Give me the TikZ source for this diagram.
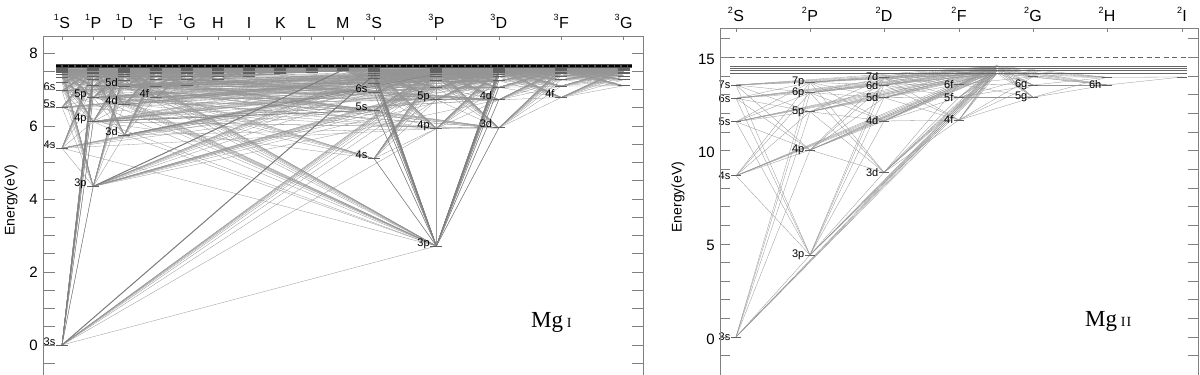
\documentclass[tikz,border=0pt]{standalone}
\usepackage{fontspec}
\setmainfont{Liberation Sans}
\newfontfamily\seriffont{Liberation Serif}
\newcommand\defc[3]{\coordinate (#1) at (#2,{345-36.5*(#3)});}
\newcommand\drwm[3]{\draw[lev] (#1) ++(-6,0) -- ++(12,0);}
\newcommand\rydL[5]{\foreach \n in {#4,...,15}{\pgfmathsetmacro\E{7.646-13.606/((\n-(#5))^2)}#1{#2-\n}{#3}{\E}}}
\newcommand\MgIlevels[1]{%
 #1{S1-3}{62}{0}#1{S1-4}{62}{5.394}#1{S1-5}{62}{6.516}#1{S1-6}{62}{6.966}\rydL{#1}{S1}{62}{7}{1.53}%
 #1{P1-3}{93.2}{4.346}#1{P1-4}{93.2}{6.118}#1{P1-5}{93.2}{6.783}\rydL{#1}{P1}{93.2}{6}{1.0}%
 #1{D1-3}{124.4}{5.753}#1{D1-4}{124.4}{6.588}#1{D1-5}{124.4}{7.092}\rydL{#1}{D1}{124.4}{6}{0.25}%
 \rydL{#1}{F1}{155.6}{4}{0.03}%
 \rydL{#1}{G1}{186.8}{5}{0}%
 \rydL{#1}{H}{218}{6}{0}%
 \rydL{#1}{I}{249.2}{7}{0}%
 \rydL{#1}{K}{280.4}{8}{0}%
 \rydL{#1}{L}{311.6}{9}{0}%
 \rydL{#1}{M}{342.8}{10}{0}%
 #1{S3-4}{374}{5.108}#1{S3-5}{374}{6.432}#1{S3-6}{374}{6.930}\rydL{#1}{S3}{374}{7}{1.63}%
 #1{P3-3}{436.4}{2.712}#1{P3-4}{436.4}{5.933}#1{P3-5}{436.4}{6.724}\rydL{#1}{P3}{436.4}{6}{1.2}%
 #1{D3-3}{498.8}{5.946}#1{D3-4}{498.8}{6.719}#1{D3-5}{498.8}{7.06}\rydL{#1}{D3}{498.8}{6}{0.2}%
 \rydL{#1}{F3}{561.2}{4}{0.03}%
 \rydL{#1}{G3}{623.6}{5}{0}%
}
\newcommand\defr[3]{\coordinate (#1) at (#2,#3);}
\newcommand\drwr[3]{\draw[lev] (#1) ++(-5,0) -- ++(10,0);}
\newcommand\MgIIlevels[1]{%
 #1{RS-3}{736}{337}#1{RS-4}{736}{175.7}#1{RS-5}{736}{121.7}#1{RS-6}{736}{98.3}#1{RS-7}{736}{85}%
 #1{RP-3}{810}{255}#1{RP-4}{810}{150}#1{RP-5}{810}{111.7}#1{RP-6}{810}{92.7}#1{RP-7}{810}{82.3}%
 #1{RD-3}{884}{172.3}#1{RD-4}{884}{121}#1{RD-5}{884}{97.7}#1{RD-6}{884}{85}#1{RD-7}{884}{77.7}%
 #1{RF-4}{959}{120}#1{RF-5}{959}{97.3}#1{RF-6}{959}{84.3}%
 #1{RG-5}{1033}{97.3}#1{RG-6}{1033}{85}#1{RG-7}{1033}{76.7}%
 #1{RH-6}{1107}{85}#1{RH-7}{1107}{77.3}%
 #1{RI-7}{1182}{77}%
}
\newcommand\allpairs[7]{\foreach \a in {#3,...,#4}{\foreach \b in {#6,...,#7}{\draw[#1] (#2-\a) -- (#5-\b);}}}
\newcommand\cl[2]{\raisebox{0.48em}{\fontsize{9}{9}\selectfont #1}\kern0.4pt#2}
\tikzset{
 frame/.style={draw=black!50, line width=0.7pt},
 tk/.style={draw=black!50, line width=0.6pt},
 lev/.style={draw=black!62, line width=1pt},
 tr/.style={draw=black!42, line width=0.3pt},
 trd/.style={draw=black!50, line width=0.45pt},
 trk/.style={draw=black!52, line width=1pt},
 ionI/.style={draw=black, line width=2.6pt, dash pattern=on 5pt off 1.5pt},
 ionIb/.style={draw=black!70, line width=3.4pt},
 ionII/.style={draw=black!60, line width=0.6pt, dash pattern=on 5pt off 3.5pt},
 suplev/.style={draw=black!60, line width=0.8pt},
 llab/.style={font=\fontsize{11}{11}\selectfont, anchor=base east, inner sep=0pt},
 rlab/.style={font=\fontsize{11}{11}\selectfont, anchor=east, inner sep=0pt},
 tlab/.style={font=\fontsize{15}{15}\selectfont, anchor=east, inner sep=0pt},
 clab/.style={font=\fontsize{16}{16}\selectfont, anchor=base, inner sep=0pt},
 axlab/.style={font=\fontsize{14}{14}\selectfont, rotate=90, inner sep=0pt},
}
\begin{document}
\begin{tikzpicture}[x=1pt,y=-1pt]
\useasboundingbox (0,0) rectangle (1200,375);
%% ================= Mg I =================
\MgIlevels{\defc}
% allowed transitions
\allpairs{tr}{S1}{3}{15}{P1}{3}{15}
\allpairs{tr}{P1}{3}{15}{D1}{3}{15}
\allpairs{tr}{D1}{3}{15}{F1}{4}{15}
\allpairs{tr}{F1}{4}{15}{G1}{5}{15}
\allpairs{tr}{G1}{5}{15}{H}{6}{15}
\allpairs{tr}{H}{6}{15}{I}{7}{15}
\allpairs{tr}{I}{7}{15}{K}{8}{15}
\allpairs{tr}{K}{8}{15}{L}{9}{15}
\allpairs{tr}{L}{9}{15}{M}{10}{15}
\allpairs{tr}{M}{10}{15}{S3}{7}{15}
\allpairs{tr}{S3}{4}{15}{P3}{3}{15}
\allpairs{tr}{P3}{3}{15}{D3}{3}{15}
\allpairs{tr}{D3}{3}{15}{F3}{4}{15}
\allpairs{tr}{F3}{4}{15}{G3}{5}{15}
% intercombination and other transitions
\allpairs{tr}{S1}{3}{3}{P3}{3}{12}
\allpairs{tr}{P3}{3}{3}{S1}{4}{12}
\allpairs{tr}{P3}{3}{3}{D1}{3}{12}
\allpairs{tr}{P1}{3}{3}{S3}{5}{12}
\allpairs{tr}{P1}{3}{3}{D3}{4}{12}
\allpairs{tr}{D1}{3}{5}{P3}{4}{12}
\allpairs{tr}{P1}{4}{6}{D3}{3}{10}
\allpairs{tr}{P1}{4}{6}{S3}{5}{10}
\allpairs{tr}{S3}{4}{6}{P1}{4}{10}
\allpairs{tr}{D3}{3}{4}{P1}{4}{10}
\allpairs{tr}{S1}{4}{6}{P3}{4}{10}
\allpairs{tr}{F1}{4}{7}{D3}{4}{10}
\allpairs{tr}{P3}{3}{3}{P3}{4}{8}
% stronger lines
\allpairs{trd}{P3}{3}{3}{S3}{4}{12}
\allpairs{trd}{P3}{3}{3}{D3}{3}{12}
\allpairs{trd}{S1}{3}{3}{P1}{3}{8}
\draw[trk] (S1-3) -- (S3-9);
\draw[trk] (P1-3) -- (M-11);
\draw[trd] (P1-4) -- (S3-5);
\draw[trd] (D1-3) -- (P3-9);
% level marks
\MgIlevels{\drwm}
% ionisation limit
\coordinate (ionA) at (56,66);
\coordinate (ionB) at (632,66);
\draw[ionIb] (ionA) -- (ionB);
\draw[ionI] (ionA) -- (ionB);
% level labels
\foreach \nm/\t in {S1-3/3s,S1-4/4s,S1-5/5s,S1-6/6s,P1-3/3p,P1-4/4p,P1-5/5p,D1-3/3d,D1-4/4d,D1-5/5d,F1-4/4f,S3-4/4s,S3-5/5s,S3-6/6s,P3-3/3p,P3-4/4p,P3-5/5p,D3-3/3d,D3-4/4d,F3-4/4f}
  \node[llab] (lab-\nm) at ([xshift=-6.5pt]\nm) {\t};
% frame and ticks
\draw[frame] (43,375) -- (43,36) -- (643,36) -- (643,375);
\foreach \e in {-0.5,0,...,8}{
  \draw[tk] (43,{345-36.5*\e}) -- (55,{345-36.5*\e});
  \draw[tk] (632,{345-36.5*\e}) -- (643,{345-36.5*\e});}
\foreach \e in {0,2,4,6,8}
  \node[tlab] (tl-\e) at (38,{345-36.5*\e}) {\e};
\foreach \xx in {62,93.2,124.4,155.6,186.8,218,249.2,280.4,311.6,342.8,374,436.4,498.8,561.2,623.6}
  \draw[tk] (\xx,36) -- (\xx,40);
\foreach \xx/\t in {62/{\cl{1}{S}},93.2/{\cl{1}{P}},124.4/{\cl{1}{D}},155.6/{\cl{1}{F}},186.8/{\cl{1}{G}},218/H,249.2/I,280.4/K,311.6/L,342.8/M,374/{\cl{3}{S}},436.4/{\cl{3}{P}},498.8/{\cl{3}{D}},561.2/{\cl{3}{F}},623.6/{\cl{3}{G}}}
  \node[clab] (col-\xx) at (\xx,28.5) {\t};
\node[axlab] (ylabI) at (11,200) {Energy(eV)};
\node[anchor=base west, inner sep=0pt, font=\seriffont\fontsize{23}{23}\selectfont] (mgI) at (531,327) {Mg\,{\fontsize{14}{14}\selectfont I}};
%% ================= Mg II =================
\MgIIlevels{\defr}
\foreach \k/\yy in {1/66,2/68.3,3/70.7,4/73.3}{
  \coordinate (UA-\k) at (730,\yy);
  \coordinate (UB-\k) at (1187,\yy);
  \coordinate (X-\k) at (997,\yy);}
\allpairs{tr}{RS}{3}{7}{RP}{3}{7}
\allpairs{tr}{RP}{3}{7}{RD}{3}{7}
\allpairs{tr}{RD}{3}{7}{RF}{4}{6}
\allpairs{tr}{RF}{4}{6}{RG}{5}{7}
\allpairs{tr}{RG}{5}{7}{RH}{6}{7}
\allpairs{tr}{RH}{6}{7}{RI}{7}{7}
\allpairs{tr}{RS}{3}{7}{X}{1}{4}
\allpairs{tr}{RP}{3}{7}{X}{1}{4}
\allpairs{tr}{RD}{3}{7}{X}{1}{4}
\allpairs{tr}{RF}{4}{6}{X}{1}{4}
\allpairs{tr}{X}{1}{4}{RG}{5}{7}
\allpairs{tr}{X}{1}{4}{RH}{6}{7}
\foreach \k in {1,...,4} \draw[suplev] (UA-\k) -- (UB-\k);
\MgIIlevels{\drwr}
\coordinate (ionC) at (730,57);
\coordinate (ionD) at (1198,57);
\draw[ionII] (ionC) -- (ionD);
\foreach \nm/\t/\dy in {RS-3/3s/0,RS-4/4s/0,RS-5/5s/0,RS-6/6s/0,RS-7/7s/0,RP-3/3p/0,RP-4/4p/0,RP-5/5p/0,RP-6/6p/0,RP-7/7p/0,RD-3/3d/0,RD-4/4d/0,RD-5/5d/0,RD-6/6d/1,RD-7/7d/-1.5,RF-4/4f/0,RF-5/5f/0,RF-6/6f/0,RG-5/5g/0,RG-6/6g/0,RH-6/6h/0}
  \node[rlab] (lab-\nm) at ([xshift=-5.5pt,yshift=-\dy pt]\nm) {\t};
\draw[frame] (720.5,375) -- (720.5,28) -- (1198,28) -- (1198,375);
\foreach \e in {-1,0,...,16}{
  \draw[tk] (720.5,{337-18.64*\e}) -- (730,{337-18.64*\e});
  \draw[tk] (1188,{337-18.64*\e}) -- (1198,{337-18.64*\e});}
\foreach \e in {0,5,10,15}
  \node[tlab] (tr-\e) at (715,{339-18.64*\e}) {\e};
\foreach \xx in {736,810,884,959,1033,1107,1182}
  \draw[tk] (\xx,28) -- (\xx,32);
\foreach \xx/\t in {736/{\cl{2}{S}},810/{\cl{2}{P}},884/{\cl{2}{D}},959/{\cl{2}{F}},1033/{\cl{2}{G}},1107/{\cl{2}{H}},1182/{\cl{2}{I}}}
  \node[clab] (rcol-\xx) at (\xx,21) {\t};
\node[axlab] (ylabII) at (678,197) {Energy(eV)};
\node[anchor=base west, inner sep=0pt, font=\seriffont\fontsize{23}{23}\selectfont] (mgII) at (1085,326) {Mg\,{\fontsize{14}{14}\selectfont I\kern1pt I}};
\end{tikzpicture}
\end{document}
